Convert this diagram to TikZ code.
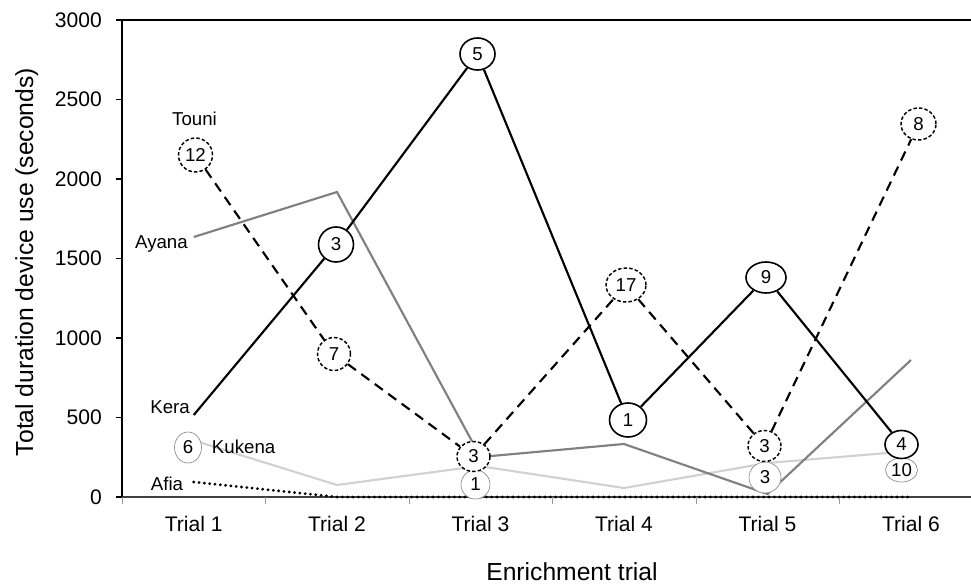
\documentclass[tikz,border=0pt]{standalone}
\usepackage{fontspec}
\setmainfont{Liberation Sans}
\usetikzlibrary{shapes.geometric}
\pgfdeclarelayer{bg}
\pgfsetlayers{bg,main}
\begin{document}
\begin{tikzpicture}[x=0.75pt,y=-0.75pt,
  lab/.style={font=\fontsize{14}{14}\selectfont, inner sep=0pt},
  ticklab/.style={font=\fontsize{15.8}{15.8}\selectfont, inner sep=0pt},
  ttl/.style={font=\fontsize{18.5}{18.5}\selectfont, inner sep=0pt},
  sz/.style 2 args={minimum width=#1*0.75pt, minimum height=#2*0.75pt},
  circ/.style={ellipse, fill=white, inner sep=0pt, font=\fontsize{14}{14}\selectfont},
  kc/.style={circ, draw=black, line width=1.2pt},
  tc/.style={circ, draw=black, line width=1.1pt, dash pattern=on 2.6pt off 1.6pt},
  uc/.style={circ, draw=black!45, line width=0.5pt},
  kera/.style={black, line width=1.6pt},
  touni/.style={black, line width=1.6pt, dash pattern=on 7.5pt off 5pt},
  ayana/.style={color=black!50, line width=1.6pt},
  kukena/.style={color=black!18, line width=1.6pt},
  afia/.style={black, line width=2.3pt, line cap=round, dash pattern=on 0pt off 4pt},
  axisline/.style={black, line width=1.5pt},
  xaxisline/.style={black!75, line width=1.5pt},
  ytick/.style={black, line width=1.2pt},
  xtick/.style={black!40, line width=0.6pt},
]
\useasboundingbox (0,0) rectangle (971,585);

% axis coordinates
\coordinate (O) at (122,497);
\coordinate (Ytop) at (122,20);
\coordinate (Tright) at (971,20);
\coordinate (Xright) at (971,497);

% y tick labels and ticks
\foreach \v/\yy in {0/497,500/417.5,1000/338,1500/258.5,2000/179,2500/99.5,3000/20}{
  \node[ticklab, anchor=east] (yl\v) at (102,\yy) {\v};
  \coordinate (yta\v) at (115.5,\yy);
  \coordinate (ytb\v) at (122,\yy);
}
% x tick labels and ticks
\foreach \n/\xx in {1/193.75,2/337,3/480.5,4/624,5/767.5,6/911}{
  \node[ticklab, anchor=base] (xl\n) at (\xx,531) {Trial \n};
}
\foreach \n/\xx in {0/122,1/265.5,2/409,3/552.5,4/696,5/839.5}{
  \coordinate (xta\n) at (\xx,497);
  \coordinate (xtb\n) at (\xx,504);
}

% titles
\node[ttl, rotate=90, anchor=base] (ytitle) at (33,262) {Total duration device use (seconds)};
\node[ttl, anchor=base] (xtitle) at (572,580) {Enrichment trial};

% series labels
\node[lab, anchor=base] (lTouni) at (194.5,126) {Touni};
\node[lab, anchor=base east] (lAyana) at (188,248) {Ayana};
\node[lab, anchor=base east] (lKera) at (190,413) {Kera};
\node[lab, anchor=base west] (lKukena) at (211.7,453) {Kukena};
\node[lab, anchor=base east] (lAfia) at (183.3,490) {Afia};

% data coordinates (unlabelled points)
\coordinate (K1) at (193.75,415);
\coordinate (A1) at (193.75,237);
\coordinate (A2) at (337,192);
\coordinate (A3) at (480.5,457);
\coordinate (A4) at (624,444);
\coordinate (A5) at (767.5,494);
\coordinate (A6) at (911,360);
\coordinate (U1) at (193.75,440.5);
\coordinate (U2) at (337,485);
\coordinate (U3) at (479,466);
\coordinate (U4) at (624,488);
\coordinate (U5) at (767.5,463);
\coordinate (U6) at (911,451);
\coordinate (F1) at (193.75,482);
\coordinate (F2) at (337,497);
\coordinate (F6) at (911,497);

% Kukena labels (drawn first, beneath other circles)
\node[uc, sz={27}{31}] (Uc1) at (188,447.5) {6};
\node[uc, sz={29}{29}] (Uc3) at (475.5,484.5) {1};
\node[uc, sz={32}{31}] (Uc5) at (765,477.5) {3};
\node[uc, sz={32}{24}] (Uc6) at (901.5,470) {10};

% Touni labels
\node[tc, sz={34}{34}] (T1) at (195.5,155) {12};
\node[tc, sz={33}{33}] (T2) at (334,354) {7};
\node[tc, sz={33}{30}] (T3) at (473.5,456.5) {3};
\node[tc, sz={40}{34}] (T4) at (626,285) {17};
\node[tc, sz={33}{31}] (T5) at (764.5,446) {3};
\node[tc, sz={35}{32}] (T6) at (918.5,124) {8};

% Kera labels
\node[kc, sz={35}{35}] (K2) at (336,244.5) {3};
\node[kc, sz={35}{32}] (K3) at (477.5,54) {5};
\node[kc, sz={37}{34}] (K4) at (628,420) {1};
\node[kc, sz={40}{31}] (K5) at (766,277.5) {9};
\node[kc, sz={33}{28}] (K6) at (901.5,444.5) {4};

\begin{pgfonlayer}{bg}
  % axes
  \draw[xaxisline] (O) -- (Xright);
  \foreach \n in {0,...,5}{\draw[xtick] (xta\n) -- (xtb\n);}
  \draw[axisline] (O) -- (Ytop);
  \draw[axisline] (Ytop) -- (Tright);
  \foreach \v in {0,500,1000,1500,2000,2500,3000}{\draw[ytick] (yta\v) -- (ytb\v);}
  % series
  \draw[kukena] (U1) -- (U2) -- (U3) -- (U4) -- (U5) -- (U6);
  \draw[ayana] (A1) -- (A2) -- (A3) -- (A4) -- (A5) -- (A6);
  \draw[afia] (F1) -- (F2) -- (F6);
  \draw[touni] (T1) -- (T2) -- (T3) -- (T4) -- (T5) -- (T6);
  \draw[kera] (K1) -- (K2) -- (K3) -- (K4) -- (K5) -- (K6);
\end{pgfonlayer}
\end{tikzpicture}
\end{document}
